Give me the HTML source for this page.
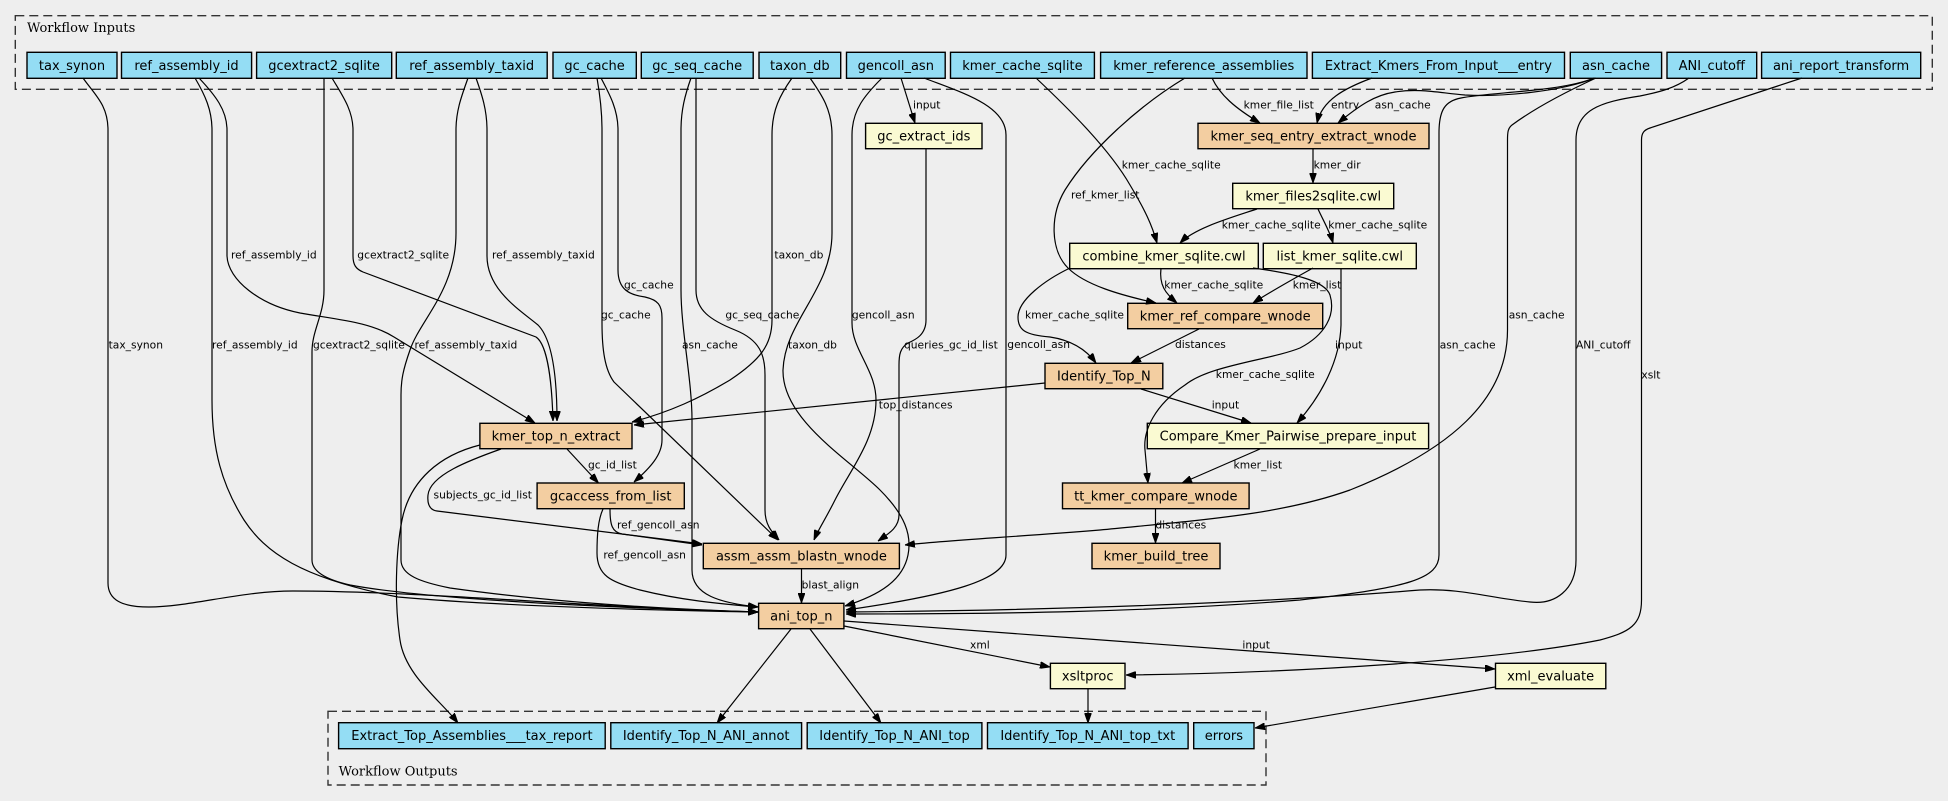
<!DOCTYPE html>
<html><head><meta charset="utf-8"><style>
html,body{margin:0;padding:0;background:#eeeeee;}
svg{display:block;}
.n{stroke:#000;stroke-width:1.4;}
.i{fill:#94DDF4;}
.s{fill:#F3CEA1;}
.y{fill:#FAFAD2;}
.t{font-family:"DejaVu Sans","Liberation Sans",sans-serif;font-size:13px;fill:#000;text-anchor:middle;}
.l{font-family:"DejaVu Sans","Liberation Sans",sans-serif;font-size:10.7px;fill:#000;}
.c{font-family:"DejaVu Serif","Liberation Serif",serif;font-size:13px;fill:#000;}
.e path{fill:none;stroke:#000;stroke-width:1.2;marker-end:url(#ah);}
</style></head><body>
<svg width="1948" height="801" viewBox="0 0 1948 801" xmlns="http://www.w3.org/2000/svg">
<defs>
<marker id="ah" viewBox="0 0 10 7" refX="10" refY="3.5" markerWidth="10" markerHeight="7" markerUnits="userSpaceOnUse" orient="auto">
<path d="M0,0 L10,3.5 L0,7 z" fill="#000" stroke="#000" stroke-width="0.8"/>
</marker>
</defs>
<rect x="0" y="0" width="1948" height="801" fill="#eeeeee"/>

<!-- clusters -->
<rect x="15.3" y="15.7" width="1917" height="73.6" fill="none" stroke="#333" stroke-width="1.4" stroke-dasharray="9,5"/>
<text class="c" x="27" y="32">Workflow Inputs</text>
<rect x="328" y="711.3" width="938" height="73.7" fill="none" stroke="#333" stroke-width="1.4" stroke-dasharray="9,5"/>
<text class="c" x="338.6" y="775.5">Workflow Outputs</text>

<!-- input nodes -->
<g>
<rect class="n i" x="27" y="52.3" width="90" height="26"/><text class="t" x="72" y="69.8">tax_synon</text>
<rect class="n i" x="121.5" y="52.3" width="130.1" height="26"/><text class="t" x="186.5" y="69.8">ref_assembly_id</text>
<rect class="n i" x="256.6" y="52.3" width="135.1" height="26"/><text class="t" x="324.1" y="69.8">gcextract2_sqlite</text>
<rect class="n i" x="396.3" y="52.3" width="150.9" height="26"/><text class="t" x="471.7" y="69.8">ref_assembly_taxid</text>
<rect class="n i" x="553" y="52.3" width="83.3" height="26"/><text class="t" x="594.6" y="69.8">gc_cache</text>
<rect class="n i" x="641.3" y="52.3" width="111.9" height="26"/><text class="t" x="697.2" y="69.8">gc_seq_cache</text>
<rect class="n i" x="759" y="52.3" width="81.7" height="26"/><text class="t" x="799.8" y="69.8">taxon_db</text>
<rect class="n i" x="846.5" y="52.3" width="98.7" height="26"/><text class="t" x="895.8" y="69.8">gencoll_asn</text>
<rect class="n i" x="950.5" y="52.3" width="143.9" height="26"/><text class="t" x="1022.4" y="69.8">kmer_cache_sqlite</text>
<rect class="n i" x="1100.6" y="52.3" width="206.4" height="26"/><text class="t" x="1203.8" y="69.8">kmer_reference_assemblies</text>
<rect class="n i" x="1312.4" y="52.3" width="252.1" height="26"/><text class="t" x="1438.4" y="69.8">Extract_Kmers_From_Input___entry</text>
<rect class="n i" x="1570.3" y="52.3" width="91.3" height="26"/><text class="t" x="1616" y="69.8">asn_cache</text>
<rect class="n i" x="1667" y="52.3" width="89.7" height="26"/><text class="t" x="1711.8" y="69.8">ANI_cutoff</text>
<rect class="n i" x="1761.6" y="52.3" width="159.1" height="26"/><text class="t" x="1841.1" y="69.8">ani_report_transform</text>
</g>

<!-- step nodes -->
<g>
<rect class="n y" x="865.6" y="123.3" width="116.4" height="25.4"/><text class="t" x="923.8" y="140.5">gc_extract_ids</text>
<rect class="n s" x="1198" y="123.3" width="231" height="25.4"/><text class="t" x="1313.5" y="140.5">kmer_seq_entry_extract_wnode</text>
<rect class="n y" x="1232.7" y="183.3" width="161" height="25.4"/><text class="t" x="1313.2" y="200.5">kmer_files2sqlite.cwl</text>
<rect class="n y" x="1069.7" y="243.3" width="188.6" height="25.4"/><text class="t" x="1164" y="260.5">combine_kmer_sqlite.cwl</text>
<rect class="n y" x="1263.3" y="243.3" width="153" height="25.4"/><text class="t" x="1339.8" y="260.5">list_kmer_sqlite.cwl</text>
<rect class="n s" x="1127.7" y="303.3" width="195" height="25.4"/><text class="t" x="1225.2" y="320.5">kmer_ref_compare_wnode</text>
<rect class="n s" x="1045" y="363.3" width="117.8" height="25.4"/><text class="t" x="1103.9" y="380.5">Identify_Top_N</text>
<rect class="n s" x="479.9" y="423.3" width="152.1" height="25.4"/><text class="t" x="556" y="440.5">kmer_top_n_extract</text>
<rect class="n y" x="1147.3" y="423.3" width="281.3" height="25.4"/><text class="t" x="1288" y="440.5">Compare_Kmer_Pairwise_prepare_input</text>
<rect class="n s" x="537.1" y="483" width="147.2" height="25.7"/><text class="t" x="610.7" y="500.3">gcaccess_from_list</text>
<rect class="n s" x="1062.5" y="483" width="186.6" height="25.7"/><text class="t" x="1155.8" y="500.3">tt_kmer_compare_wnode</text>
<rect class="n s" x="703.3" y="543.3" width="196.1" height="25.4"/><text class="t" x="801.4" y="560.5">assm_assm_blastn_wnode</text>
<rect class="n s" x="1092" y="543.3" width="128" height="25.4"/><text class="t" x="1156" y="560.5">kmer_build_tree</text>
<rect class="n s" x="758.6" y="603.3" width="85.3" height="25.4"/><text class="t" x="801.3" y="620.5">ani_top_n</text>
<rect class="n y" x="1050.4" y="663.3" width="74.6" height="25.4"/><text class="t" x="1087.7" y="680.5">xsltproc</text>
<rect class="n y" x="1495.5" y="663.3" width="110.3" height="25.4"/><text class="t" x="1550.6" y="680.5">xml_evaluate</text>
</g>

<!-- output nodes -->
<g>
<rect class="n i" x="338.6" y="722.7" width="266.6" height="26"/><text class="t" x="471.9" y="740.2">Extract_Top_Assemblies___tax_report</text>
<rect class="n i" x="610.8" y="722.7" width="190.8" height="26"/><text class="t" x="706.2" y="740.2">Identify_Top_N_ANI_annot</text>
<rect class="n i" x="807.2" y="722.7" width="174.7" height="26"/><text class="t" x="894.5" y="740.2">Identify_Top_N_ANI_top</text>
<rect class="n i" x="987.5" y="722.7" width="200.6" height="26"/><text class="t" x="1087.8" y="740.2">Identify_Top_N_ANI_top_txt</text>
<rect class="n i" x="1193.7" y="722.7" width="60.3" height="26"/><text class="t" x="1223.9" y="740.2">errors</text>
</g>

<!-- edges -->
<g class="e">
<path d="M 83,78 C 95,95 108,105 108,130 L 108,583 C 108,600 122,607 149,607 C 190,607 240,591 293,591 C 420,591 600,608 758,612"/>
<path d="M 195,78 C 205,95 212,110 212,130 L 212,400 C 212,450 222,485 244,520 C 265,552 300,578 398,597 C 500,606 640,610 758,612"/>
<path d="M 199,78 C 215,95 227,110 227,130 L 227,256 C 228,280 260,305 300,313 C 340,320 370,322 394,337 L 535,423"/>
<path d="M 324,78 L 324,290 C 324,315 312,330 312,352 L 312,560 C 312,572 328,580 350,585 C 430,600 620,608 758,612"/>
<path d="M 332,78 C 342,95 353,110 353,130 L 353,256 C 353,265 356,269 363,272 L 536,337 C 548,345 552,385 553,421"/>
<path d="M 468,78 C 462,95 456,110 456,130 L 456,233 C 456,290 420,320 410,350 C 403,370 401,380 401,395 L 401,560 C 401,575 420,582 450,588 C 550,602 660,609 758,612"/>
<path d="M 476,78 C 482,95 487,110 487,130 L 487,256 C 487,290 520,310 538,325 C 553,340 557,380 557,421"/>
<path d="M 597,78 C 600,95 602,110 602,130 L 602,323 C 602,350 605,370 614,382 L 778,540"/>
<path d="M 601,78 C 610,95 618,110 618,130 L 618,270 C 618,290 630,295 645,297 C 658,300 662,305 662,318 L 662,440 C 662,455 650,468 634,482"/>
<path d="M 691,78 C 685,95 681,110 681,130 L 681,290 C 681,330 692,380 692,420 L 692,570 C 692,595 720,603 758,607"/>
<path d="M 696,78 L 696,290 C 696,310 710,320 735,330 C 760,340 765,355 765,375 L 765,510 C 765,525 772,532 779,540"/>
<path d="M 792,78 C 780,95 772,110 772,135 L 772,320 C 772,345 760,360 730,380 C 700,398 670,412 632,422"/>
<path d="M 810,78 C 822,95 832,110 832,135 L 832,233 C 832,290 785,320 783,370 C 782,420 850,460 880,490 C 905,515 912,535 908,555 C 903,580 880,595 845,606"/>
<path d="M 882,78 C 865,95 852,110 852,135 L 852,323 C 852,350 876,370 876,400 C 876,440 850,470 835,500 C 825,520 818,530 814,540"/>
<path d="M 901,78 L 915,123"/>
<path d="M 924,78 C 960,92 1006,105 1006,135 L 1006,555 C 1006,580 950,595 846,610"/>
<path d="M 926,149 L 926,320 C 926,335 915,340 908,343 C 900,348 899,355 899,365 L 899,515 C 899,528 888,534 878,541"/>
<path d="M 1036,78 C 1070,110 1110,150 1130,185 C 1145,210 1152,225 1157,243"/>
<path d="M 1185,78 C 1140,105 1090,150 1065,190 C 1050,215 1050,250 1068,268 C 1085,285 1120,295 1156,303"/>
<path d="M 1212,78 C 1220,95 1235,108 1260,123"/>
<path d="M 1372,78 C 1345,88 1322,100 1317,123"/>
<path d="M 1595,78 C 1560,92 1500,97 1465,95 C 1440,93 1420,88 1395,92 C 1375,95 1360,105 1338,123"/>
<path d="M 1594,78 C 1560,92 1490,92 1461,98 C 1445,101 1439,110 1439,133 L 1439,555 C 1439,578 1410,588 1300,600 C 1150,612 1000,614 846,614"/>
<path d="M 1596,78 C 1570,90 1535,108 1512,125 C 1508,128 1507.5,132 1507.5,140 L 1507.5,330 C 1507.5,400 1450,450 1350,490 C 1280,515 1200,520 1100,530 C 1000,538 950,540 905,545"/>
<path d="M 1689,78 C 1675,88 1660,92 1640,96 C 1600,102 1576,110 1576,140 L 1576,560 C 1576,590 1555,605 1530,602 C 1490,598 1460,588 1420,590 C 1300,600 1100,610 846,612"/>
<path d="M 1802,78 L 1650,128 C 1644,130 1641.5,133 1641.5,140 L 1641.5,600 C 1641.5,625 1630,632 1600,640 C 1500,660 1300,673 1126,675"/>
<path d="M 1313,149 L 1313,183"/>
<path d="M 1257,209 C 1230,218 1195,228 1180,243"/>
<path d="M 1318,209 C 1324,222 1330,232 1333,243"/>
<path d="M 1161,268 C 1159,285 1165,293 1177,303"/>
<path d="M 1313,268 C 1295,278 1270,292 1253,303"/>
<path d="M 1341,268 L 1341,325 C 1340,360 1322,395 1297,423"/>
<path d="M 1253,268 C 1290,273 1325,280 1330,295 C 1336,315 1325,335 1300,348 C 1270,360 1210,365 1185,385 C 1155,405 1143,430 1145,450 L 1148,483"/>
<path d="M 1070,268 C 1045,280 1018,300 1018,317 C 1018,330 1025,335 1050,337 C 1070,340 1085,348 1096,363"/>
<path d="M 1199,329 L 1131,363"/>
<path d="M 1141,389 L 1251,423"/>
<path d="M 1045,383 L 634,425"/>
<path d="M 1260,449 L 1182,483"/>
<path d="M 1155.5,509 L 1155.5,543"/>
<path d="M 567,449 L 598.5,483"/>
<path d="M 501,449 C 470,460 430,475 428,495 C 427,505 430,510 437,511 L 702,544"/>
<path d="M 480,445 C 440,455 410,480 402,520 C 396,550 394,600 400,640 C 405,675 440,700 458,723"/>
<path d="M 610,509 C 610,525 612,532 622,534 L 702,545"/>
<path d="M 603,509 C 598,520 597,535 597,553 C 597,575 610,582 640,590 C 680,600 720,604 758,607"/>
<path d="M 801.5,569 L 801.5,603"/>
<path d="M 791,629 L 717,723"/>
<path d="M 810,629 L 881,723"/>
<path d="M 844,626 L 1050,667"/>
<path d="M 844,621 L 1495,669"/>
<path d="M 1088,689 L 1088,723"/>
<path d="M 1495,687 L 1255,728"/>
</g>

<!-- edge labels -->
<g class="l">
<text x="108.6" y="348.7">tax_synon</text>
<text x="212" y="348.7">ref_assembly_id</text>
<text x="231" y="258.4">ref_assembly_id</text>
<text x="313" y="348.7">gcextract2_sqlite</text>
<text x="357.3" y="258.4">gcextract2_sqlite</text>
<text x="414.5" y="348.7">ref_assembly_taxid</text>
<text x="492" y="258.4">ref_assembly_taxid</text>
<text x="624" y="288.7">gc_cache</text>
<text x="601" y="318.7">gc_cache</text>
<text x="725.4" y="318.4">gc_seq_cache</text>
<text x="682" y="348.4">asn_cache</text>
<text x="774.4" y="258.4">taxon_db</text>
<text x="788" y="348.4">taxon_db</text>
<text x="851.9" y="318.4">gencoll_asn</text>
<text x="913" y="108.4">input</text>
<text x="904" y="348.4">queries_gc_id_list</text>
<text x="1007.3" y="348">gencoll_asn</text>
<text x="1121.7" y="168.4">kmer_cache_sqlite</text>
<text x="1071" y="198.7">ref_kmer_list</text>
<text x="1243.6" y="108.4">kmer_file_list</text>
<text x="1331" y="108.4">entry</text>
<text x="1374.8" y="108.4">asn_cache</text>
<text x="1313.6" y="168.4">kmer_dir</text>
<text x="1221.7" y="228.7">kmer_cache_sqlite</text>
<text x="1328.3" y="228.7">kmer_cache_sqlite</text>
<text x="1164.3" y="288.7">kmer_cache_sqlite</text>
<text x="1292.7" y="288.7">kmer_list</text>
<text x="1025" y="318.7">kmer_cache_sqlite</text>
<text x="1175" y="348">distances</text>
<text x="1335" y="348.4">input</text>
<text x="1215.8" y="378">kmer_cache_sqlite</text>
<text x="878.8" y="408.4">top_distances</text>
<text x="1211.7" y="408.4">input</text>
<text x="588" y="468.4">gc_id_list</text>
<text x="1233.5" y="468.4">kmer_list</text>
<text x="433.5" y="498.4">subjects_gc_id_list</text>
<text x="617" y="528.7">ref_gencoll_asn</text>
<text x="1155.4" y="528.4">distances</text>
<text x="603.4" y="558.7">ref_gencoll_asn</text>
<text x="801.6" y="588.4">blast_align</text>
<text x="970" y="648.7">xml</text>
<text x="1242.4" y="648.7">input</text>
<text x="1439.7" y="348.4">asn_cache</text>
<text x="1508.7" y="318.4">asn_cache</text>
<text x="1576" y="348.4">ANI_cutoff</text>
<text x="1641.4" y="378.4">xslt</text>
</g>
</svg>
</body></html>
